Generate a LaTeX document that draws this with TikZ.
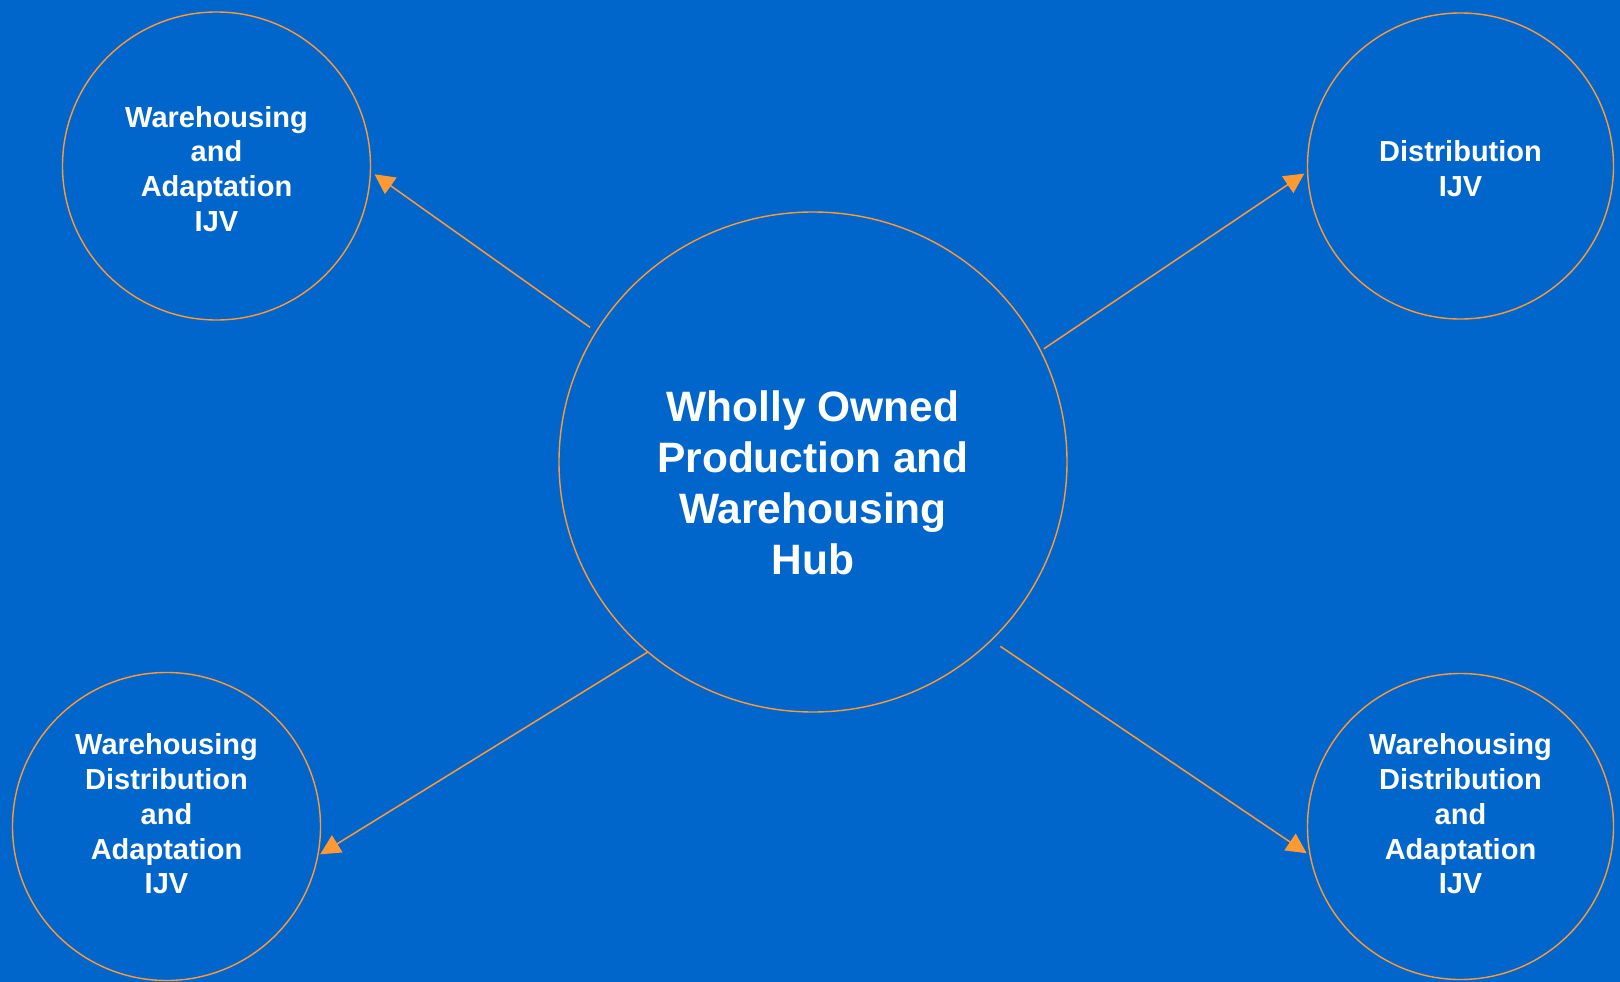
\documentclass[tikz,border=0pt]{standalone}
\usepackage{fontspec}
\setmainfont{Liberation Sans}
\usetikzlibrary{arrows.meta,shapes.geometric}
\definecolor{bgblue}{HTML}{0066CC}
\definecolor{edgeorange}{HTML}{FF9933}
\tikzset{
  ring/.style={circle,draw=edgeorange,line width=1.4pt,inner sep=0pt,outer sep=0pt,minimum size=#1},
  hubring/.style={ellipse,draw=edgeorange,line width=1.4pt,inner sep=0pt,outer sep=0pt,minimum width=508pt,minimum height=500pt},
  smalltext/.style={text=white,align=center,font=\bfseries\fontsize{29}{34.8}\selectfont,inner sep=0pt},
  hubtext/.style={text=white,align=center,font=\bfseries\fontsize{42.5}{51}\selectfont,inner sep=0pt},
  link/.style={draw=edgeorange,line width=1.5pt,-{Triangle[length=20pt,width=20pt]}}
}
\begin{document}
\begin{tikzpicture}[x=1pt,y=1pt]
\fill[bgblue] (0,0) rectangle (1620,-982);
\useasboundingbox (0,0) rectangle (1620,-982);
% circles
\node[hubring] (hub) at (813,-462) {};
\node[ring=308pt] (tl) at (216.5,-166) {};
\node[ring=306pt] (tr) at (1460.5,-166) {};
\node[ring=308pt] (bl) at (166.5,-826.5) {};
\node[ring=306pt] (br) at (1460.5,-826.5) {};
% texts
\node[hubtext] (hubt) at (813,-483) {Wholly Owned\\Production and\\Warehousing\\Hub};
\node[smalltext] (tlt) at (216.5,-169) {Warehousing\\and\\Adaptation\\IJV};
\node[smalltext] (trt) at (1460.5,-169) {Distribution\\IJV};
\node[smalltext] (blt) at (166.5,-814) {Warehousing\\Distribution\\and\\Adaptation\\IJV};
\node[smalltext] (brt) at (1460.5,-814) {Warehousing\\Distribution\\and\\Adaptation\\IJV};
% arrows
\draw[link,shorten <=7.5pt,shorten >=5pt] (hub.149.4) -- (tl.-2.5);
\draw[link,shorten <=4pt,shorten >=4pt] (hub.26.6) -- (tr.182.2);
\draw[link,shorten <=0pt,shorten >=3pt] (hub.-131.1) -- (bl.-11.6);
\draw[link,shorten <=11pt,shorten >=4.5pt] (hub.-45.6) -- (br.191.4);
\end{tikzpicture}
\end{document}
